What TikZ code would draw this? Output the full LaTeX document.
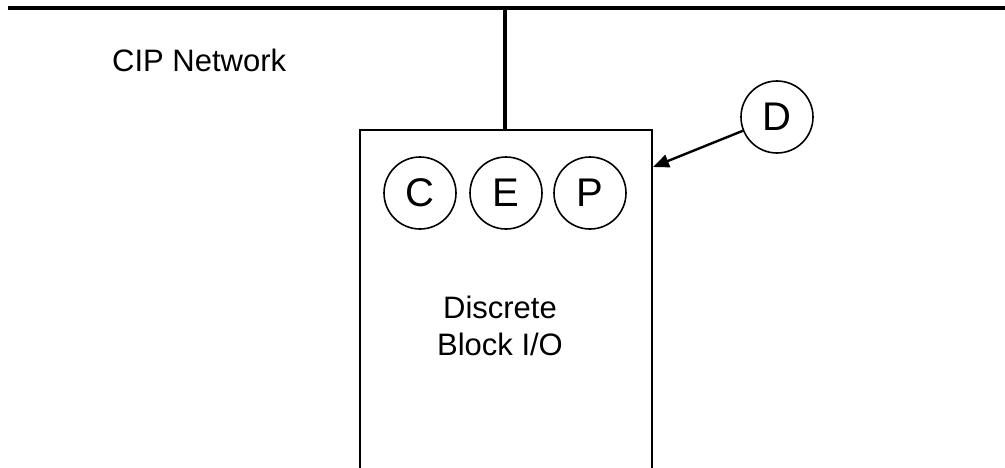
\documentclass[tikz,border=0pt]{standalone}
\usepackage{fontspec}
\setmainfont{Liberation Sans}
\usetikzlibrary{arrows.meta}
\begin{document}
\begin{tikzpicture}[x=1pt,y=-1pt,
  bus/.style={line width=4pt},
  boxline/.style={line width=2pt},
  letter/.style={circle,draw,line width=1.6pt,minimum size=72pt,inner sep=0pt,font=\fontsize{40}{48}\selectfont},
  label/.style={inner sep=0pt,font=\fontsize{31}{37}\selectfont},
  arr/.style={line width=2.4pt,-{Triangle[length=16pt,width=13pt]}}]
\useasboundingbox (0,0) rectangle (1005,467);
% network bus
\coordinate (busL) at (8,8);
\coordinate (busR) at (1010,8);
\draw[bus] (busL) -- (busR);
\node[label,anchor=base west] (cip) at (112,71) {CIP Network};
% box (open at the bottom)
\coordinate (bl) at (360,475);
\coordinate (tl) at (360,130);
\coordinate (tr) at (652,130);
\coordinate (br) at (652,475);
\coordinate (tap) at (505,130);
\coordinate (busTap) at (505,8);
\draw[boxline] (bl) -- (tl) -- (tr) -- (br);
\draw[line width=3.5pt] (busTap) -- (tap);
% circles
\node[letter] (c) at (420,193) {C};
\node[letter] (e) at (506,193) {E};
\node[letter] (p) at (590,193) {P};
\node[letter] (d) at (777,117) {D};
% label
\node[label,align=center] (lbl) at (500,330) {\strut Discrete\\Block I/O\strut};
% arrow
\coordinate (target) at (653,167);
\draw[arr] (d) -- (target);
\end{tikzpicture}
\end{document}
